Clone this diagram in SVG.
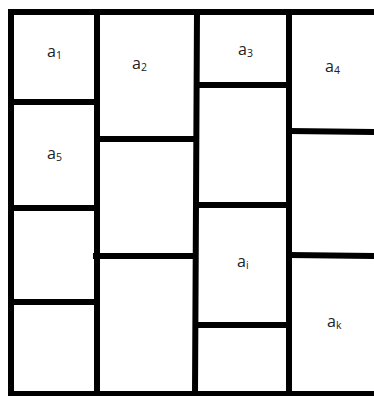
<svg xmlns="http://www.w3.org/2000/svg" width="374" height="396" viewBox="0 0 374 396">
<style>
.ln{stroke:#000;stroke-width:6;fill:none;stroke-linecap:butt}
.lb{font-family:"Open Sans","Noto Sans",sans-serif;font-size:16px;fill:#222}
.sb{font-size:10.5px}
</style>
<rect width="374" height="396" fill="#fff"/>
<g id="connectors">
<path class="ln" d="M8 12H374M11 9V396M8 394H374"/>
<path class="ln" d="M97 12V394M197 12L195 394M289 12V394"/>
<path class="ln" d="M11 102H97M11 208H97M11 302H97"/>
<path class="ln" d="M97 139H196M93 256H196"/>
<path class="ln" d="M197 85H289M196 205H289M195 325H289"/>
<path class="ln" d="M289 131L374 132M289 255L374 256"/>
</g>
<g id="a1"><text class="lb" x="47" y="57">a<tspan class="sb" dy="2">1</tspan></text></g>
<g id="a2"><text class="lb" x="132" y="69">a<tspan class="sb" dy="2">2</tspan></text></g>
<g id="a3"><text class="lb" x="238" y="55">a<tspan class="sb" dy="2">3</tspan></text></g>
<g id="a4"><text class="lb" x="325" y="72">a<tspan class="sb" dy="2">4</tspan></text></g>
<g id="a5"><text class="lb" x="47" y="159">a<tspan class="sb" dy="2">5</tspan></text></g>
<g id="ai"><text class="lb" x="237" y="267">a<tspan class="sb" dy="2">i</tspan></text></g>
<g id="ak"><text class="lb" x="327" y="327">a<tspan class="sb" dy="2">k</tspan></text></g>
</svg>
